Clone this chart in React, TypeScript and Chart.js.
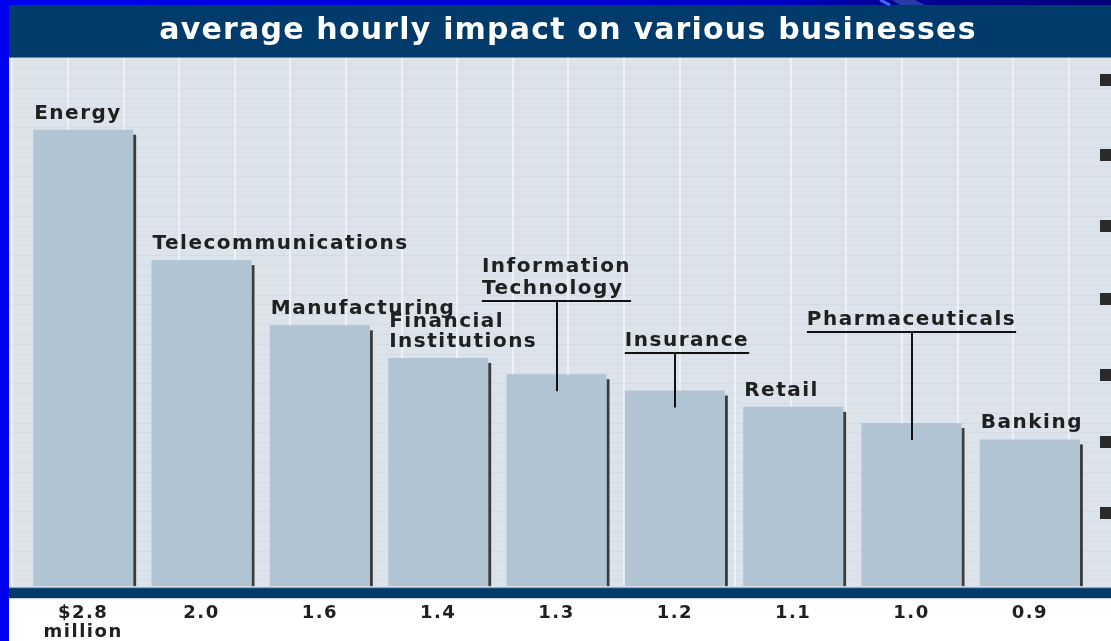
import { useEffect, useRef } from "react";
import { Chart, registerables } from "chart.js";

Chart.register(...registerables);

// ---------- data ----------
const titleText = "average hourly impact on various businesses";
const categories = [
  "Energy",
  "Telecommunications",
  "Manufacturing",
  "Financial Institutions",
  "Information Technology",
  "Insurance",
  "Retail",
  "Pharmaceuticals",
  "Banking",
];
const categoryLines = [
  ["Energy"],
  ["Telecommunications"],
  ["Manufacturing"],
  ["Financial", "Institutions"],
  ["Information", "Technology"],
  ["Insurance"],
  ["Retail"],
  ["Pharmaceuticals"],
  ["Banking"],
];
const impactMillions = [2.8, 2.0, 1.6, 1.4, 1.3, 1.2, 1.1, 1.0, 0.9];
const tickLabels = [
  ["$2.8", "million"],
  ["2.0"],
  ["1.6"],
  ["1.4"],
  ["1.3"],
  ["1.2"],
  ["1.1"],
  ["1.0"],
  ["0.9"],
];
// labels lifted above their bar with a leader line (level in data units)
const leaderLevels: (number | null)[] = [null, null, null, null, 1.75, 1.43, null, 1.56, null];
const leaderAlign = ["", "", "", "", "center", "left", "", "center", ""];

// ---------- styles ----------
const FONT = '"DejaVu Sans", Verdana, sans-serif';
const NAVY = "#003b6c";
const BG = "#dde3ea";
const BAR = "#b1c4d4";

const decorPlugin = {
  id: "decor",
  beforeDraw(chart: any) {
    const { ctx, width, height, chartArea } = chart;
    ctx.save();
    ctx.letterSpacing = "0px";
    ctx.fillStyle = "#ffffff";
    ctx.fillRect(0, 0, width, height);
    const top = 58;
    const bottom = chartArea.bottom;
    ctx.fillStyle = BG;
    ctx.fillRect(9, top, width - 9, bottom - top + 1);
    ctx.fillStyle = "#d3dae2";
    for (let y = 68; y < bottom; y += 9.85) {
      ctx.fillRect(9, Math.round(y), width - 9, 1);
    }
    ctx.fillStyle = "#eef1f5";
    for (let x = 11.4; x < width; x += 55.6) {
      ctx.fillRect(Math.round(x), top, 2, bottom - top);
    }
    // title bar
    ctx.fillStyle = NAVY;
    ctx.fillRect(9, 5, width - 9, 52);
    ctx.fillStyle = "#6a8cab";
    ctx.fillRect(9, 57, width - 9, 1);
    // bottom band
    ctx.fillStyle = "#7f9cb8";
    ctx.fillRect(9, bottom + 1, width - 9, 1);
    ctx.fillStyle = NAVY;
    ctx.fillRect(9, bottom + 2, width - 9, 10);
    ctx.fillStyle = "#c9d2dc";
    ctx.fillRect(9, bottom + 12, width - 9, 1);
    // top strip
    const g = ctx.createLinearGradient(0, 0, width, 0);
    g.addColorStop(0, "#0000f0");
    g.addColorStop(0.7, "#0000c8");
    g.addColorStop(0.79, "#000098");
    g.addColorStop(1, "#00007a");
    ctx.fillStyle = g;
    ctx.fillRect(0, 0, width, 5);
    ctx.strokeStyle = "#3d6bff";
    ctx.lineWidth = 3;
    ctx.beginPath();
    ctx.moveTo(880, 0);
    ctx.lineTo(890, 5);
    ctx.stroke();
    ctx.fillStyle = "#2a3aa8";
    ctx.beginPath();
    ctx.moveTo(892, 0);
    ctx.lineTo(915, 0);
    ctx.lineTo(925, 5);
    ctx.lineTo(900, 5);
    ctx.closePath();
    ctx.fill();
    // left blue frame
    ctx.fillStyle = "#0000f0";
    ctx.fillRect(0, 0, 9, height);
    // title
    ctx.fillStyle = "#ffffff";
    ctx.font = `bold 30px ${FONT}`;
    ctx.letterSpacing = "1.2px";
    ctx.textAlign = "center";
    ctx.textBaseline = "alphabetic";
    ctx.fillText(titleText, 568, 39);
    // right-edge bullet squares
    ctx.letterSpacing = "0px";
    ctx.fillStyle = "#2a2a2a";
    [80, 155, 226, 299, 375, 442, 513].forEach((cy) => {
      ctx.fillRect(1100, cy - 6, 12, 12);
    });
    ctx.restore();
    ctx.letterSpacing = "1.5px";
  },
  beforeDatasetsDraw(chart: any) {
    const { ctx } = chart;
    const meta = chart.getDatasetMeta(0);
    ctx.save();
    ctx.fillStyle = "#3c3c3c";
    meta.data.forEach((bar: any) => {
      const { x, y, width, base } = bar.getProps(["x", "y", "width", "base"], true);
      ctx.fillRect(x + width / 2, y + 5, 3, base - y - 5);
    });
    ctx.restore();
  },
  afterDatasetsDraw(chart: any) {
    const { ctx } = chart;
    const meta = chart.getDatasetMeta(0);
    const yScale = chart.scales.y;
    ctx.save();
    ctx.font = `bold 20px ${FONT}`;
    ctx.letterSpacing = "1.5px";
    ctx.fillStyle = "#202020";
    ctx.textBaseline = "alphabetic";
    ctx.textAlign = "left";
    meta.data.forEach((bar: any, i: number) => {
      const { x, y, width } = bar.getProps(["x", "y", "width"], true);
      const left = x - width / 2;
      const lines = categoryLines[i];
      const lvl = leaderLevels[i];
      if (lvl == null) {
        lines.forEach((t, j) => {
          ctx.fillText(t, left + 1, y - 11 - (lines.length - 1 - j) * 20);
        });
      } else {
        const uy = Math.round(yScale.getPixelForValue(lvl));
        const w = Math.max(...lines.map((t) => ctx.measureText(t).width));
        const tl = leaderAlign[i] === "center" ? x - w / 2 : left;
        lines.forEach((t, j) => {
          ctx.fillText(t, tl, uy - 7 - (lines.length - 1 - j) * 22);
        });
        ctx.strokeStyle = "#111111";
        ctx.lineWidth = 2;
        ctx.beginPath();
        ctx.moveTo(tl, uy);
        ctx.lineTo(tl + w, uy);
        ctx.moveTo(Math.round(x), uy);
        ctx.lineTo(Math.round(x), y + 17);
        ctx.stroke();
      }
    });
    ctx.restore();
  },
  afterDraw(chart: any) {
    chart.ctx.letterSpacing = "0px";
  },
};

export default function App() {
  const ref = useRef<HTMLCanvasElement>(null);
  useEffect(() => {
    document.body.style.margin = "0";
    const chart = new Chart(ref.current!, {
      type: "bar",
      data: {
        labels: categories,
        datasets: [
          {
            data: impactMillions,
            backgroundColor: BAR,
            borderWidth: 0,
            categoryPercentage: 1,
            barPercentage: 0.845,
          },
        ],
      },
      options: {
        responsive: false,
        animation: false,
        devicePixelRatio: 1,
        layout: { padding: { left: 24, right: 22, top: 58, bottom: -18 } },
        plugins: {
          legend: { display: false },
          tooltip: { enabled: false },
          title: { display: false },
        },
        scales: {
          x: {
            grid: { display: false, drawTicks: false },
            border: { display: false },
            ticks: {
              autoSkip: false,
              maxRotation: 0,
              padding: 17,
              color: "#202020",
              font: { family: FONT, size: 18, weight: "bold", lineHeight: 1.08 },
              callback: (_v: any, i: number) => tickLabels[i],
            },
          },
          y: {
            display: false,
            min: 0,
            max: 3.24,
          },
        },
      },
      plugins: [decorPlugin],
    });
    return () => chart.destroy();
  }, []);
  return <canvas ref={ref} width={1111} height={641} style={{ display: "block" }} />;
}
